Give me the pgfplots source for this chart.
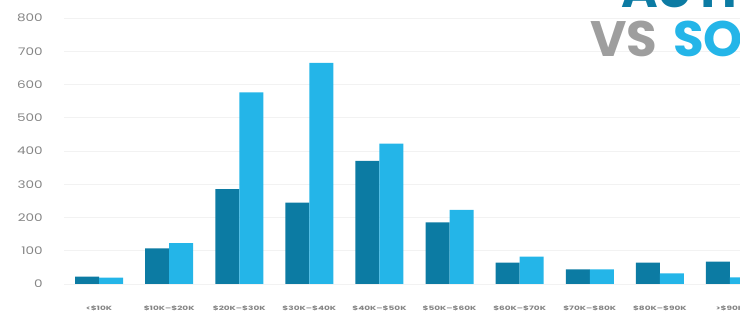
\documentclass[border=0pt]{standalone}
\usepackage{pgfplots}
\pgfplotsset{compat=1.18}
\usepackage{fontspec}
\setmainfont{Poppins}
\definecolor{darkb}{HTML}{0C7BA3}
\definecolor{lightb}{HTML}{24B5E8}
\definecolor{titlegray}{HTML}{9E9E9E}
\definecolor{tickgray}{HTML}{858585}
\definecolor{gridc}{HTML}{F2F2F2}
\begin{document}
\begin{tikzpicture}
\useasboundingbox (0,0) rectangle (740bp,312bp);
\clip (0,0) rectangle (740bp,312bp);
\begin{axis}[
  at={(64bp,28bp)}, anchor=south west,
  scale only axis, width=701bp, height=266bp,
  xmin=-0.5, xmax=9.5, ymin=0, ymax=800,
  ybar=0pt, bar width=24bp,
  axis line style={draw=none},
  major tick length=0pt,
  ytick={0,100,...,800},
  ymajorgrids, grid style={gridc, line width=0.6pt},
  xtick={0,...,9},
  xticklabels={{<\$10K},{\$10K--\$20K},{\$20K--\$30K},{\$30K--\$40K},{\$40K--\$50K},{\$50K--\$60K},{\$60K--\$70K},{\$70K--\$80K},{\$80K--\$90K},{>\$90K}},
  /pgf/number format/assume math mode=true,
  yticklabel style={font=\fontsize{10.5}{12}\selectfont, text=tickgray, anchor=east, inner sep=0pt, xshift=-21bp, xscale=1.3},
  xticklabel style={font=\fontsize{6}{7}\selectfont\bfseries, text=tickgray, anchor=center, inner sep=0pt, yshift=-24bp, xscale=1.5},
  every axis plot/.append style={draw=none},
]
\addplot[fill=darkb] coordinates {(0,22) (1,107) (2,285) (3,245) (4,370) (5,185) (6,64) (7,44) (8,64) (9,67)};
\addplot[fill=lightb] coordinates {(0,19) (1,123) (2,576) (3,665) (4,422) (5,223) (6,82) (7,44) (8,32) (9,20)};
\end{axis}
\node[anchor=base west, inner sep=0pt, text=darkb, font=\fontsize{50}{50}\selectfont\bfseries] at (621bp,304bp) {AUTHORS};
\node[anchor=base west, inner sep=0pt, font=\fontsize{50}{50}\selectfont\bfseries] at (590bp,255bp) {\textcolor{titlegray}{VS}\hspace{0.32em}\textcolor{lightb}{SOCIETY}};
\end{tikzpicture}
\end{document}
